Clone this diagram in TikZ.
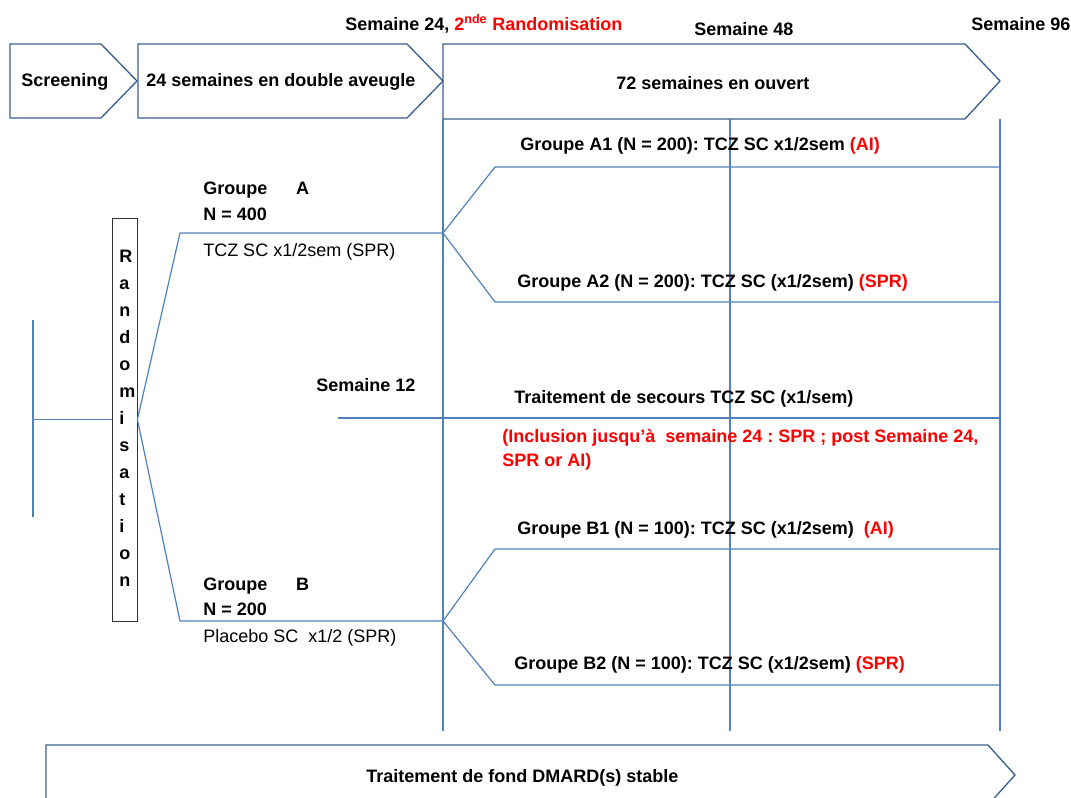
\documentclass[tikz,border=0pt]{standalone}
\usepackage{fontspec}
\setmainfont{Liberation Sans}
\definecolor{lineblue}{HTML}{4F81BD}
\definecolor{chevblue}{HTML}{3A5F8E}
\definecolor{rouge}{HTML}{FF0000}
\newcommand{\taille}{\fontsize{13.5}{16}\selectfont\frenchspacing}
\tikzset{
  trait/.style={draw=lineblue, line width=0.9pt},
  fleche/.style={draw=chevblue, line width=1pt, line join=miter},
  lbl/.style={inner sep=0pt, anchor=west, yshift=-1.5pt, font=\taille\bfseries},
  note/.style={inner sep=0pt, anchor=west, yshift=-1.5pt, font=\taille},
}

\begin{document}
\begin{tikzpicture}[x=0.75pt, y=-0.75pt]
            \useasboundingbox (0,0) rectangle (1071,798);
            % phases en haut
            \draw[fleche] (10,44) -- (101,44) -- (137,81) -- (101,118) -- (10,118) -- cycle;
            \draw[fleche] (138,44) -- (407,44) -- (443,81) -- (407,118) -- (138,118) -- cycle;
            \draw[fleche] (443,44) -- (965,44) -- (1000,81) -- (965,119) -- (443,119) -- cycle;
            \draw[fleche] (46,805) -- (46,745) -- (988,745) -- (1015,775) -- (988,805);
            \node[lbl] (screen) at (21,80) {Screening};
            \node[lbl] (aveugle) at (146,80) {24 semaines en double aveugle};
            \node[lbl] (ouvert) at (616,81) {72 semaines en ouvert};
            \node[lbl] (dmard) at (366,776) {Traitement de fond DMARD(s) stable};
            % semaines
            \node[lbl] (s24) at (345,22) {Semaine 24, \textcolor{rouge}{2\textsuperscript{nde} Randomisation}};
            \node[lbl] (s48) at (694,27) {Semaine 48};
            \node[lbl] (s96) at (971,22) {Semaine 96};
            \coordinate (w24t) at (443,119); \coordinate (w24b) at (443,731);
            \coordinate (w48t) at (730,119); \coordinate (w48b) at (730,731);
            \coordinate (w96t) at (1000,119); \coordinate (w96b) at (1000,731);
            \draw[trait] (w24t) -- (w24b);
            \draw[trait] (w48t) -- (w48b);
            \draw[trait] (w96t) -- (w96b);
            % randomisation
            \node (randbox) [draw=black!80, line width=0.6pt, minimum width=18.75pt,
                minimum height=302.25pt, inner sep=0pt] at (124.5,419.5) {};
            \foreach \lettre [count=\i] in {R,a,n,d,o,m,i,s,a,t,i,o,n}
                \node[inner sep=0pt, anchor=base west, font=\taille\bfseries] at (119,{235.5+27*\i}) {\lettre};
            \coordinate (gtop) at (33,320);
            \coordinate (gbot) at (33,517);
            \coordinate (gmid) at (33,419.5);
            \draw[trait] (gtop) -- (gbot);
            \draw[trait] (gmid) -- (randbox.west);
            % groupes A et B
            \coordinate (ga0) at (180,233); \coordinate (ga) at (443,233);
            \coordinate (gb0) at (180,621); \coordinate (gb) at (443,621);
            \draw[trait] (ga) -- (ga0) -- (randbox.east) -- (gb0) -- (gb);
            \node[lbl] (grpA) at (203,188) {Groupe\hspace{1.6em}A};
            \node[lbl] (nA) at (203,212) {N = 400};
            \node[note] (trA) at (203,250) {TCZ SC x1/2sem (SPR)};
            \node[lbl] (grpB) at (203,584) {Groupe\hspace{1.6em}B};
            \node[lbl] (nB) at (203,607) {N = 200};
            \node[note] (trB) at (203,636) {Placebo SC\ \ x1/2 (SPR)};
            % seconde randomisation
            \coordinate (a1s) at (495,167); \coordinate (a1e) at (1000,167);
            \coordinate (a2s) at (495,302); \coordinate (a2e) at (1000,302);
            \coordinate (b1s) at (495,549); \coordinate (b1e) at (1000,549);
            \coordinate (b2s) at (495,685); \coordinate (b2e) at (1000,685);
            \draw[trait] (a1e) -- (a1s) -- (ga) -- (a2s) -- (a2e);
            \draw[trait] (b1e) -- (b1s) -- (gb) -- (b2s) -- (b2e);
            \node[lbl] (grpA1) at (520,144) {Groupe A1 (N = 200): TCZ SC x1/2sem \textcolor{rouge}{(AI)}};
            \node[lbl] (grpA2) at (517,281) {Groupe A2 (N = 200): TCZ SC (x1/2sem) \textcolor{rouge}{(SPR)}};
            \node[lbl] (grpB1) at (517,528) {Groupe B1 (N = 100): TCZ SC (x1/2sem)\ \ \textcolor{rouge}{(AI)}};
            \node[lbl] (grpB2) at (514,663) {Groupe B2 (N = 100): TCZ SC (x1/2sem) \textcolor{rouge}{(SPR)}};
            % secours
            \coordinate (s12a) at (338,418); \coordinate (s12b) at (1000,418);
            \draw[trait] (s12a) -- (s12b);
            \node[lbl] (s12) at (316,383) {Semaine 12};
            \node[lbl] (sec) at (514,397) {Traitement de secours TCZ SC (x1/sem)};
            \node[lbl, text=rouge] (sec2a) at (502,436) {(Inclusion jusqu’à\ \ semaine 24 : SPR ; post Semaine 24,};
            \node[lbl, text=rouge] (sec2b) at (502,460) {SPR or AI)};
        \end{tikzpicture}
\end{document}
